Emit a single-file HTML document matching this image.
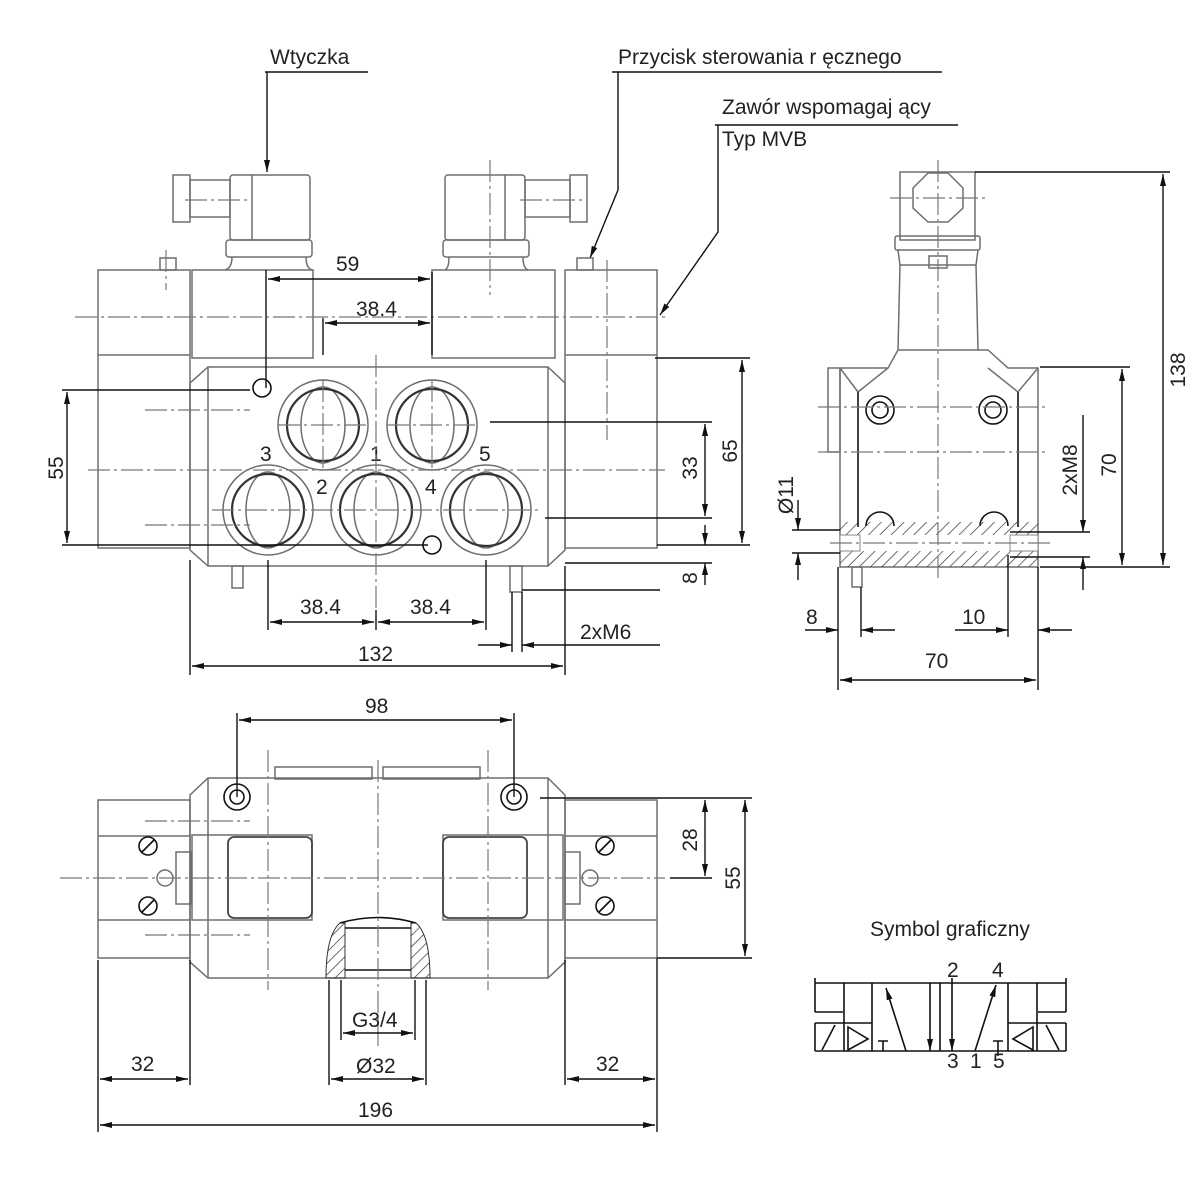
<!DOCTYPE html>
<html><head><meta charset="utf-8"><style>
html,body{margin:0;padding:0;background:#fff}
svg{display:block}
text{font-family:"Liberation Sans",sans-serif;fill:#222;font-size:21px}
.o{fill:none;stroke:#6e6e6e;stroke-width:1.5}
.k{fill:none;stroke:#111;stroke-width:1.6}
.c{fill:none;stroke:#777;stroke-width:1.2;stroke-dasharray:22 4 3 4}
.d{fill:none;stroke:#111;stroke-width:1.4}
</style></head><body>
<svg width="1200" height="1200" viewBox="0 0 1200 1200" xmlns="http://www.w3.org/2000/svg">
<defs>
<marker id="a" viewBox="0 0 12 6" refX="12" refY="3" markerWidth="12" markerHeight="6" orient="auto-start-reverse" markerUnits="userSpaceOnUse"><path d="M0,0L12,3L0,6z" fill="#111"/></marker>
<pattern id="hat" width="8" height="8" patternUnits="userSpaceOnUse" patternTransform="rotate(45)"><line x1="0" y1="0" x2="0" y2="8" stroke="#333" stroke-width="1.4"/></pattern>
</defs>

<text x="270" y="64">Wtyczka</text>
<line class="d" x1="265" y1="72" x2="368" y2="72"/>
<line class="d" x1="267" y1="72" x2="267" y2="172" marker-end="url(#a)"/>
<text x="618" y="64">Przycisk sterowania r ęcznego</text>
<line class="d" x1="612" y1="72" x2="942" y2="72"/>
<polyline class="d" points="618,72 618,190 590,258" marker-end="url(#a)"/>
<text x="722" y="114">Zawór wspomagaj ący</text>
<line class="d" x1="715" y1="125" x2="958" y2="125"/>
<text x="722" y="146">Typ MVB</text>
<polyline class="d" points="718,125 718,232 660,315" marker-end="url(#a)"/>

<!-- FRONT VIEW -->
<rect class="o" x="98" y="270" width="92" height="278"/>
<line class="o" x1="98" y1="355" x2="190" y2="355"/>
<rect class="o" x="565" y="270" width="92" height="278"/>
<line class="o" x1="565" y1="355" x2="657" y2="355"/>
<rect class="o" x="160" y="258" width="16" height="12"/>
<rect class="o" x="577" y="258" width="16" height="12"/>
<rect class="o" x="192" y="270" width="121" height="88"/>
<rect class="o" x="432" y="270" width="123" height="88"/>
<rect class="o" x="230" y="175" width="80" height="65" rx="3"/>
<line class="o" x1="252" y1="175" x2="252" y2="240"/>
<rect class="o" x="173" y="175" width="17" height="47"/>
<rect class="o" x="190" y="180" width="40" height="37"/>
<rect class="o" x="226" y="240" width="86" height="17" rx="3"/>
<path class="o" d="M232,257 Q232,268 225,270 M306,257 Q306,268 312,270"/>
<rect class="o" x="445" y="175" width="80" height="65" rx="3"/>
<line class="o" x1="505" y1="175" x2="505" y2="240"/>
<rect class="o" x="525" y="180" width="45" height="37"/>
<rect class="o" x="570" y="175" width="17" height="47"/>
<rect class="o" x="443" y="240" width="86" height="17" rx="3"/>
<path class="o" d="M449,257 Q449,268 445,270 M523,257 Q523,268 528,270"/>
<polygon class="o" points="208,367 548,367 565,383 565,550 548,566 208,566 190,550 190,383"/>
<line class="o" x1="208" y1="367" x2="208" y2="566"/>
<line class="o" x1="548" y1="367" x2="548" y2="566"/>
<g class="o">
<circle cx="323" cy="425" r="45"/><ellipse cx="323" cy="425" rx="22" ry="38"/>
<circle cx="432" cy="425" r="45"/><ellipse cx="432" cy="425" rx="22" ry="38"/>
<circle cx="268" cy="510" r="45"/><ellipse cx="268" cy="510" rx="22" ry="38"/>
<circle cx="376" cy="510" r="45"/><ellipse cx="376" cy="510" rx="22" ry="38"/>
<circle cx="486" cy="510" r="45"/><ellipse cx="486" cy="510" rx="22" ry="38"/>
</g>
<g fill="none" stroke="#333" stroke-width="2.2">
<circle cx="323" cy="425" r="36"/><circle cx="432" cy="425" r="36"/>
<circle cx="268" cy="510" r="36"/><circle cx="376" cy="510" r="36"/><circle cx="486" cy="510" r="36"/>
</g>
<circle class="k" cx="262" cy="388" r="9"/><circle class="k" cx="432" cy="545" r="9"/>
<rect class="o" x="232" y="566" width="11" height="22"/><rect class="o" x="510" y="566" width="12" height="26"/>
<text x="260" y="461">3</text><text x="370" y="461">1</text><text x="479" y="461">5</text>
<text x="316" y="494">2</text><text x="425" y="494">4</text>
<line class="c" x1="75" y1="317" x2="665" y2="317"/>
<line class="c" x1="88" y1="470" x2="665" y2="470"/>
<line class="c" x1="145" y1="410" x2="250" y2="410"/>
<line class="c" x1="145" y1="525" x2="250" y2="525"/>
<line class="c" x1="376" y1="355" x2="376" y2="610"/>
<line class="c" x1="490" y1="160" x2="490" y2="295"/>
<line class="c" x1="185" y1="200" x2="250" y2="200"/>
<line class="c" x1="520" y1="200" x2="585" y2="200"/>
<line class="c" x1="166" y1="250" x2="166" y2="290"/>
<line class="c" x1="607" y1="260" x2="607" y2="440"/>
<line class="c" x1="323" y1="380" x2="323" y2="470"/>
<line class="c" x1="432" y1="380" x2="432" y2="470"/>
<line class="c" x1="278" y1="425" x2="368" y2="425"/>
<line class="c" x1="387" y1="425" x2="477" y2="425"/>
<line class="c" x1="212" y1="510" x2="540" y2="510"/>
<line class="d" x1="266" y1="270" x2="266" y2="388" stroke-width="2"/>
<line class="d" x1="432" y1="272" x2="432" y2="355" stroke-width="2"/>
<line class="d" x1="323" y1="318" x2="323" y2="355" stroke-width="2"/>
<line class="d" x1="268" y1="279" x2="430" y2="279" marker-start="url(#a)" marker-end="url(#a)"/>
<text x="336" y="271">59</text>
<line class="d" x1="325" y1="323" x2="430" y2="323" marker-start="url(#a)" marker-end="url(#a)"/>
<text x="356" y="316">38.4</text>
<line class="d" x1="62" y1="390" x2="250" y2="390"/>
<line class="d" x1="62" y1="545" x2="428" y2="545"/>
<line class="d" x1="67" y1="392" x2="67" y2="543" marker-start="url(#a)" marker-end="url(#a)"/>
<text transform="translate(63,468) rotate(-90)" text-anchor="middle">55</text>
<line class="d" x1="490" y1="422" x2="712" y2="422"/>
<line class="d" x1="545" y1="518" x2="712" y2="518"/>
<line class="d" x1="705" y1="424" x2="705" y2="516" marker-start="url(#a)" marker-end="url(#a)"/>
<text transform="translate(697,468) rotate(-90)" text-anchor="middle">33</text>
<line class="d" x1="655" y1="358" x2="750" y2="358"/>
<line class="d" x1="657" y1="545" x2="750" y2="545"/>
<line class="d" x1="742" y1="360" x2="742" y2="543" marker-start="url(#a)" marker-end="url(#a)"/>
<text transform="translate(737,451) rotate(-90)" text-anchor="middle">65</text>
<line class="d" x1="565" y1="563" x2="712" y2="563"/>
<line class="d" x1="705" y1="525" x2="705" y2="545" marker-end="url(#a)"/>
<line class="d" x1="705" y1="585" x2="705" y2="563" marker-end="url(#a)"/>
<text transform="translate(697,578) rotate(-90)" text-anchor="middle">8</text>
<line class="d" x1="268" y1="560" x2="268" y2="630"/>
<line class="d" x1="376" y1="610" x2="376" y2="630"/>
<line class="d" x1="486" y1="560" x2="486" y2="630"/>
<line class="d" x1="270" y1="622" x2="374" y2="622" marker-start="url(#a)" marker-end="url(#a)"/>
<line class="d" x1="378" y1="622" x2="484" y2="622" marker-start="url(#a)" marker-end="url(#a)"/>
<text x="300" y="614">38.4</text><text x="410" y="614">38.4</text>
<line class="d" x1="190" y1="560" x2="190" y2="675"/>
<line class="d" x1="565" y1="566" x2="565" y2="675"/>
<line class="d" x1="192" y1="666" x2="563" y2="666" marker-start="url(#a)" marker-end="url(#a)"/>
<text x="358" y="661">132</text>
<line class="d" x1="512" y1="592" x2="512" y2="652"/>
<line class="d" x1="522" y1="592" x2="522" y2="652"/>
<line class="d" x1="478" y1="645" x2="512" y2="645" marker-end="url(#a)"/>
<line class="d" x1="560" y1="645" x2="522" y2="645" marker-end="url(#a)"/>
<line class="d" x1="560" y1="645" x2="660" y2="645"/>
<line class="d" x1="522" y1="590" x2="660" y2="590"/>
<text x="580" y="639">2xM6</text>

<!-- SIDE VIEW -->
<rect class="o" x="900" y="172" width="75" height="68"/>
<polygon class="o" points="928,173 948,173 963,188 963,208 948,222 928,222 913,208 913,188"/>
<rect class="o" x="895" y="236" width="85" height="14" rx="2"/>
<path class="o" d="M898,250 L900,265 L898,350 M978,250 L976,265 L978,350 M900,265 L976,265"/>
<rect class="o" x="929" y="256" width="18" height="12"/>
<polygon class="o" points="858,368 888,368 898,350 988,350 1008,368 1038,368 1038,567 840,567 840,368"/>
<polyline class="o" points="840,368 858,392 888,368"/>
<polyline class="o" points="1038,368 1018,392 988,368"/>
<line class="k" x1="858" y1="392" x2="858" y2="527"/>
<line class="k" x1="1018" y1="392" x2="1018" y2="527"/>
<rect class="o" x="828" y="368" width="12" height="84"/>
<g class="k"><circle cx="880" cy="410" r="14"/><circle cx="880" cy="410" r="8"/><circle cx="993" cy="410" r="14"/><circle cx="993" cy="410" r="8"/>
<path d="M866,526 A14,14 0 0 1 894,526"/><path d="M980,526 A14,14 0 0 1 1008,526"/></g>
<rect x="840" y="522" width="198" height="13" fill="url(#hat)"/>
<rect x="840" y="551" width="198" height="16" fill="url(#hat)"/>
<rect x="840" y="535" width="20" height="16" fill="#fff" stroke="#888"/>
<rect x="1010" y="535" width="28" height="16" fill="#fff" stroke="#888"/>
<rect class="o" x="852" y="567" width="10" height="20"/>
<line class="c" x1="938" y1="160" x2="938" y2="580"/>
<line class="c" x1="890" y1="198" x2="985" y2="198"/>
<line class="c" x1="818" y1="452" x2="1045" y2="452"/>
<line class="c" x1="830" y1="543" x2="1050" y2="543"/>
<line class="c" x1="818" y1="407" x2="1045" y2="407"/>
<line class="d" x1="975" y1="172" x2="1170" y2="172"/>
<line class="d" x1="1040" y1="567" x2="1170" y2="567"/>
<line class="d" x1="1163" y1="174" x2="1163" y2="565" marker-start="url(#a)" marker-end="url(#a)"/>
<text transform="translate(1185,370) rotate(-90)" text-anchor="middle">138</text>
<line class="d" x1="1040" y1="367" x2="1130" y2="367"/>
<line class="d" x1="1122" y1="369" x2="1122" y2="565" marker-start="url(#a)" marker-end="url(#a)"/>
<text transform="translate(1116,465) rotate(-90)" text-anchor="middle">70</text>
<line class="d" x1="1010" y1="532" x2="1090" y2="532"/>
<line class="d" x1="1010" y1="557" x2="1090" y2="557"/>
<line class="d" x1="1083" y1="415" x2="1083" y2="532" marker-end="url(#a)"/>
<line class="d" x1="1083" y1="590" x2="1083" y2="557" marker-end="url(#a)"/>
<text transform="translate(1077,470) rotate(-90)" text-anchor="middle">2xM8</text>
<line class="d" x1="792" y1="530" x2="840" y2="530"/>
<line class="d" x1="792" y1="553" x2="840" y2="553"/>
<line class="d" x1="798" y1="500" x2="798" y2="530" marker-end="url(#a)"/>
<line class="d" x1="798" y1="580" x2="798" y2="553" marker-end="url(#a)"/>
<text transform="translate(793,495) rotate(-90)" text-anchor="middle">Ø11</text>
<line class="d" x1="838" y1="567" x2="838" y2="690"/>
<line class="d" x1="861" y1="587" x2="861" y2="637"/>
<line class="d" x1="805" y1="630" x2="838" y2="630" marker-end="url(#a)"/>
<line class="d" x1="895" y1="630" x2="861" y2="630" marker-end="url(#a)"/>
<text x="806" y="624">8</text>
<line class="d" x1="1008" y1="555" x2="1008" y2="637"/>
<line class="d" x1="1038" y1="567" x2="1038" y2="690"/>
<line class="d" x1="955" y1="630" x2="1008" y2="630" marker-end="url(#a)"/>
<line class="d" x1="1072" y1="630" x2="1038" y2="630" marker-end="url(#a)"/>
<text x="962" y="624">10</text>
<line class="d" x1="840" y1="680" x2="1036" y2="680" marker-start="url(#a)" marker-end="url(#a)"/>
<text x="925" y="668">70</text>

<!-- BOTTOM VIEW -->
<polygon class="o" points="208,778 548,778 565,795 565,962 548,978 208,978 190,962 190,795"/>
<line class="o" x1="208" y1="778" x2="208" y2="978"/>
<line class="o" x1="548" y1="778" x2="548" y2="978"/>
<rect class="o" x="98" y="800" width="92" height="158"/>
<line class="o" x1="98" y1="836" x2="190" y2="836"/>
<line class="o" x1="98" y1="920" x2="190" y2="920"/>
<rect class="o" x="565" y="800" width="92" height="158"/>
<line class="o" x1="565" y1="836" x2="657" y2="836"/>
<line class="o" x1="565" y1="920" x2="657" y2="920"/>
<rect class="o" x="275" y="767" width="97" height="12"/>
<rect class="o" x="383" y="767" width="97" height="12"/>
<g class="k"><circle cx="237" cy="797" r="13"/><circle cx="237" cy="797" r="7"/><circle cx="514" cy="797" r="13"/><circle cx="514" cy="797" r="7"/></g>
<rect class="o" x="192" y="835" width="120" height="85"/>
<rect class="o" x="443" y="835" width="120" height="85"/>
<rect fill="none" stroke="#444" stroke-width="1.8" x="228" y="837" width="84" height="81" rx="6"/>
<rect fill="none" stroke="#444" stroke-width="1.8" x="443" y="837" width="84" height="81" rx="6"/>
<rect class="o" x="176" y="852" width="15" height="52"/><rect class="o" x="565" y="852" width="15" height="52"/>
<circle class="o" cx="165" cy="878" r="8"/><circle class="o" cx="590" cy="878" r="8"/>
<g class="k"><circle cx="148" cy="846" r="9"/><circle cx="148" cy="906" r="9"/><circle cx="605" cy="846" r="9"/><circle cx="605" cy="906" r="9"/>
<path d="M142,852 L154,840 M142,912 L154,900 M599,852 L611,840 M599,912 L611,900"/></g>
<path fill="url(#hat)" stroke="#333" d="M326,978 Q326,935 340,923 L345,923 L345,978 Z"/>
<path fill="url(#hat)" stroke="#333" d="M430,978 Q430,935 416,923 L411,923 L411,978 Z"/>
<path class="k" d="M340,923 Q378,912 416,923 M345,928 L411,928 M345,970 L411,970"/>
<line class="c" x1="60" y1="878" x2="665" y2="878"/>
<line class="c" x1="145" y1="821" x2="250" y2="821"/>
<line class="c" x1="145" y1="935" x2="250" y2="935"/>
<line class="c" x1="378" y1="760" x2="378" y2="1050"/>
<line class="c" x1="268" y1="750" x2="268" y2="990"/>
<line class="c" x1="488" y1="750" x2="488" y2="990"/>
<line class="d" x1="237" y1="713" x2="237" y2="797"/>
<line class="d" x1="514" y1="713" x2="514" y2="797"/>
<line class="d" x1="239" y1="720" x2="512" y2="720" marker-start="url(#a)" marker-end="url(#a)"/>
<text x="365" y="713">98</text>
<line class="d" x1="540" y1="798" x2="752" y2="798"/>
<line class="d" x1="670" y1="878" x2="712" y2="878"/>
<line class="d" x1="657" y1="958" x2="752" y2="958"/>
<line class="d" x1="705" y1="800" x2="705" y2="876" marker-start="url(#a)" marker-end="url(#a)"/>
<text transform="translate(697,840) rotate(-90)" text-anchor="middle">28</text>
<line class="d" x1="745" y1="800" x2="745" y2="956" marker-start="url(#a)" marker-end="url(#a)"/>
<text transform="translate(740,878) rotate(-90)" text-anchor="middle">55</text>
<line class="d" x1="98" y1="960" x2="98" y2="1132"/>
<line class="d" x1="190" y1="960" x2="190" y2="1085"/>
<line class="d" x1="565" y1="960" x2="565" y2="1085"/>
<line class="d" x1="657" y1="958" x2="657" y2="1132"/>
<line class="d" x1="100" y1="1079" x2="188" y2="1079" marker-start="url(#a)" marker-end="url(#a)"/>
<text x="131" y="1071">32</text>
<line class="d" x1="567" y1="1079" x2="655" y2="1079" marker-start="url(#a)" marker-end="url(#a)"/>
<text x="596" y="1071">32</text>
<line class="d" x1="100" y1="1125" x2="655" y2="1125" marker-start="url(#a)" marker-end="url(#a)"/>
<text x="358" y="1117">196</text>
<line class="d" x1="329" y1="980" x2="329" y2="1085"/>
<line class="d" x1="426" y1="980" x2="426" y2="1085"/>
<line class="d" x1="341" y1="980" x2="341" y2="1040"/>
<line class="d" x1="415" y1="980" x2="415" y2="1040"/>
<line class="d" x1="343" y1="1033" x2="413" y2="1033" marker-start="url(#a)" marker-end="url(#a)"/>
<text x="352" y="1027">G3/4</text>
<line class="d" x1="331" y1="1079" x2="424" y2="1079" marker-start="url(#a)" marker-end="url(#a)"/>
<text x="356" y="1073">Ø32</text>

<!-- SYMBOL -->
<text x="870" y="936">Symbol graficzny</text>
<g class="k" stroke-width="1.2">
<line x1="815" y1="983" x2="1066" y2="983"/>
<line x1="815" y1="1051" x2="1066" y2="1051"/>
<line x1="815" y1="978" x2="815" y2="1012"/><line x1="1066" y1="978" x2="1066" y2="1012"/>
<line x1="815" y1="1012" x2="843" y2="1012"/><line x1="1038" y1="1012" x2="1066" y2="1012"/>
<line x1="815" y1="1023" x2="815" y2="1051"/><line x1="1066" y1="1023" x2="1066" y2="1051"/>
<line x1="815" y1="1023" x2="872" y2="1023"/><line x1="1008" y1="1023" x2="1066" y2="1023"/>
<line x1="844" y1="983" x2="844" y2="1051"/><line x1="1037" y1="983" x2="1037" y2="1051"/>
<line x1="872" y1="983" x2="872" y2="1051"/><line x1="1008" y1="983" x2="1008" y2="1051"/>
<line x1="940" y1="983" x2="940" y2="1051"/>
<line x1="822" y1="1050" x2="835" y2="1025"/><line x1="1046" y1="1025" x2="1059" y2="1050"/>
<polygon points="848,1027 868,1039 848,1050"/><polygon points="1033,1027 1013,1039 1033,1050"/>
<line x1="906" y1="1051" x2="886" y2="988" marker-end="url(#a)"/>
<line x1="930" y1="983" x2="930" y2="1051" marker-end="url(#a)"/>
<line x1="952" y1="978" x2="952" y2="1051" marker-end="url(#a)"/>
<line x1="975" y1="1051" x2="996" y2="985" marker-end="url(#a)"/>
<path d="M878,1041 L888,1041 M883,1041 L883,1051 M993,1041 L1003,1041 M998,1041 L998,1056"/>
</g>
<g style="font-size:13px"><text x="947" y="977">2</text><text x="992" y="977">4</text><text x="947" y="1068">3</text><text x="970" y="1068">1</text><text x="993" y="1068">5</text></g>
</svg>
</body></html>
